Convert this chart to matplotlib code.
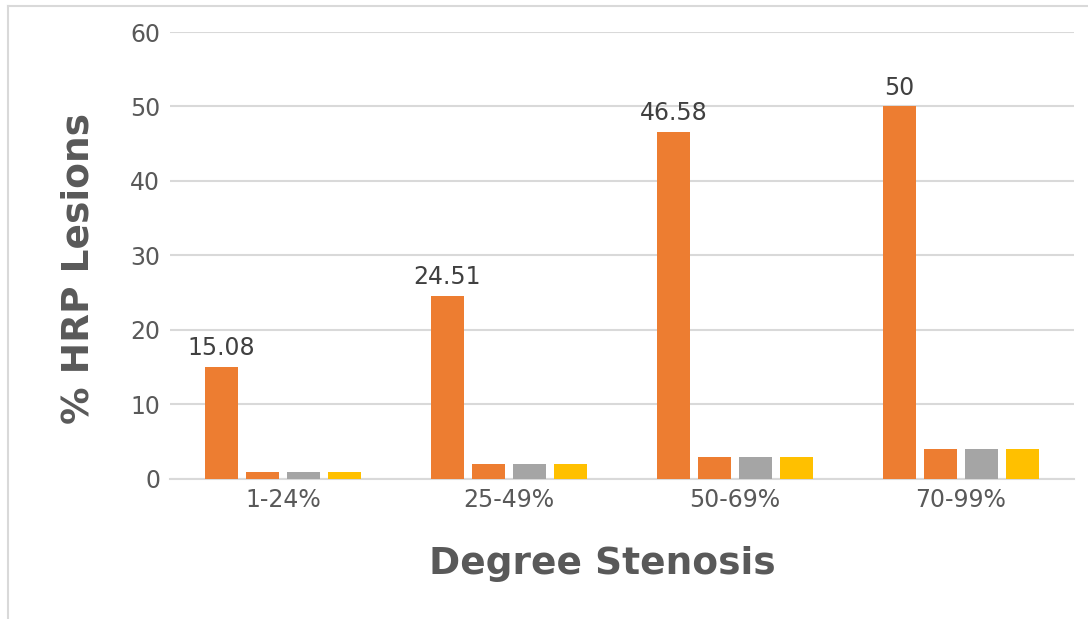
import matplotlib.pyplot as plt
import numpy as np
from matplotlib.lines import Line2D

FONT = 'DejaVu Sans'
plt.rcParams['font.family'] = [FONT]

# Data
categories = ['1-24%', '25-49%', '50-69%', '70-99%']
series_a = [15.08, 24.51, 46.58, 50]
series_b = [1, 2, 3, 4]
series_c = [1, 2, 3, 4]
series_d = [1, 2, 3, 4]

colors = ['#ED7D31', '#ED7D31', '#A5A5A5', '#FFC000']
offsets = [-0.272, -0.091, 0.091, 0.272]
width = 0.146

fig = plt.figure(figsize=(10.88, 6.19), dpi=100)
ax = fig.add_axes([0.1562, 0.2262, 0.8309, 0.7221])

x = np.arange(len(categories))
all_series = [series_a, series_b, series_c, series_d]
for vals, off, col in zip(all_series, offsets, colors):
    ax.bar(x + off, vals, width, color=col, zorder=3)

# data labels on the first series only
for xi, v in zip(x, series_a):
    ax.text(xi + offsets[0], v + 1.6, f'{v:g}', ha='center', va='baseline',
            fontsize=17, color='#404040', family=FONT)

ax.set_xlim(-0.5, 3.5)
ax.set_ylim(0, 60)
ax.set_yticks(range(0, 61, 10))
ax.set_xticks(x)
ax.set_xticklabels(categories)
ax.tick_params(axis='both', length=0, labelsize=17, labelcolor='#595959')
ax.tick_params(axis='y', pad=7)
ax.tick_params(axis='x', pad=6.5)
for lab in ax.get_xticklabels() + ax.get_yticklabels():
    lab.set_family(FONT)

ax.grid(axis='y', color='#D9D9D9', linewidth=1.5, zorder=0)
for s in ['top', 'right', 'left']:
    ax.spines[s].set_visible(False)
ax.spines['bottom'].set_color('#D9D9D9')
ax.spines['bottom'].set_linewidth(1.5)

ax.set_ylabel('% HRP Lesions', fontsize=27, fontweight='bold', color='#595959', family=FONT)
ax.yaxis.label.set_va('baseline')
ax.yaxis.set_label_coords(-0.0905, 0.472)
ax.set_xlabel('Degree Stenosis', fontsize=27, fontweight='bold', color='#595959', family=FONT)
ax.xaxis.label.set_va('baseline')
ax.xaxis.set_label_coords(0.478, -0.2125)

# chart frame (partly outside the image)
fig.add_artist(Line2D([8 / 1088, 8 / 1088], [0, 1 - 6 / 619], transform=fig.transFigure,
                      color='#D9D9D9', linewidth=1.5))
fig.add_artist(Line2D([8 / 1088, 1], [1 - 6 / 619, 1 - 6 / 619], transform=fig.transFigure,
                      color='#D9D9D9', linewidth=1.5))

fig.savefig('out.png', dpi=100)
